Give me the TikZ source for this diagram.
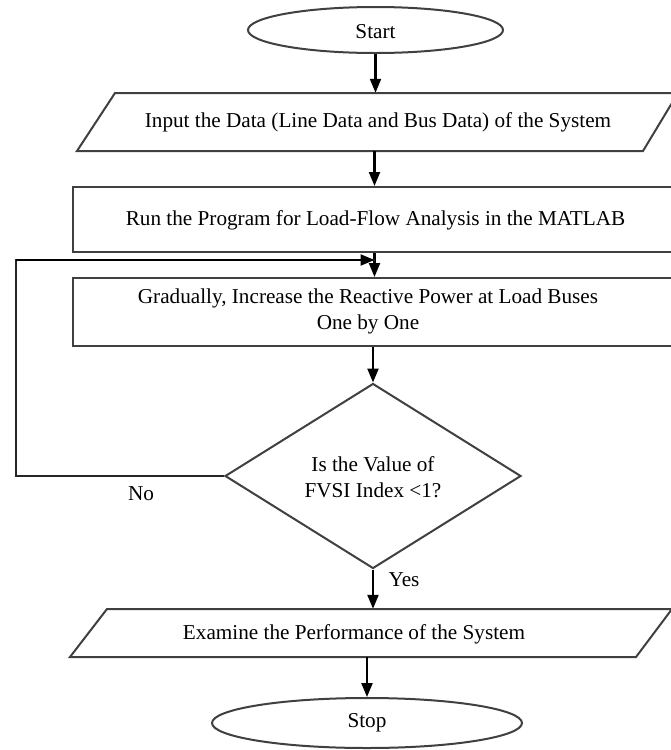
\documentclass[tikz,border=0pt]{standalone}
\usepackage{fontspec}
\setmainfont{Liberation Serif}
\usetikzlibrary{shapes.geometric,arrows.meta}
\begin{document}
\begin{tikzpicture}[x=1pt,y=-1pt,
  shapeline/.style={draw=black!75,line width=2pt},
  conn/.style={draw=black,line width=2.2pt,-{Triangle[width=11pt,length=14pt]}},
  plainline/.style={draw=black!85,line width=2.2pt},
  txt/.style={font=\fontsize{21.2}{26}\selectfont,inner sep=0pt,align=center},
  term/.style={ellipse,shapeline,inner sep=0pt,txt},
  boxnode/.style={rectangle,shapeline,inner sep=0pt,txt},
  hold/.style={rectangle,inner sep=0pt,txt}]
\useasboundingbox (0,0) rectangle (671,750);
\clip (0,0) rectangle (671,750);
\fill[white] (0,0) rectangle (671,750);

% Start
\node[term,minimum width=255pt,minimum height=46pt] (start) at (375.5,30) {};
\node[txt] (starttext) at (375.5,32) {Start};

% Input parallelogram
\draw[shapeline] (115,93) -- (678,93) -- (643,151) -- (77,151) -- cycle;
\node[hold,minimum width=560pt,minimum height=58pt] (input) at (378,122) {Input the Data (Line Data and Bus Data) of the System};

% Run
\node[boxnode,minimum width=603pt,minimum height=65pt] (run) at (374.5,219.5) {};
\node[txt] (runtext) at (375.5,220) {Run the Program for Load-Flow Analysis in the MATLAB};

% Gradually
\node[boxnode,minimum width=603pt,minimum height=68pt] (grad) at (374.5,312) {};
\node[txt] (gradtext) at (368,311) {Gradually, Increase the Reactive Power at Load Buses\\One by One};

% Decision
\node[diamond,shapeline,inner sep=0pt,minimum width=296pt,minimum height=185pt] (dia) at (373,476) {};
\node[txt] (diatext) at (373,477) {Is the Value of\\FVSI Index <1?};

% Examine parallelogram
\draw[shapeline] (107,609) -- (672,609) -- (636,657) -- (70,657) -- cycle;
\node[hold,minimum width=560pt,minimum height=48pt] (exam) at (371,633) {};
\node[txt] (examtext) at (354,634) {Examine the Performance of the System};

% Stop
\node[term,minimum width=310pt,minimum height=50pt] (stop) at (367,723) {Stop};

% Connectors
\draw[conn] (start.south) -- (start.south |- input.north);
\draw[conn] (run.north |- input.south) -- (run.north);
\draw[conn] (run.south) -- (grad.north);
\draw[conn] (dia.north |- grad.south) -- (dia.north);
\draw[conn] (dia.south) -- (dia.south |- exam.north);
\draw[conn] (stop.north |- exam.south) -- (stop.north);

\coordinate (nocorner) at (16,476);
\coordinate (topcorner) at (16,260);
\coordinate (join) at (374.5,260);
\draw[plainline] (dia.west) -- (nocorner) -- (topcorner) -- (join);
\draw[conn] (topcorner) -- (join);

% Labels
\node[txt] (nolabel) at (141,494) {No};
\node[txt] (yeslabel) at (404,580) {Yes};
\end{tikzpicture}
\end{document}
